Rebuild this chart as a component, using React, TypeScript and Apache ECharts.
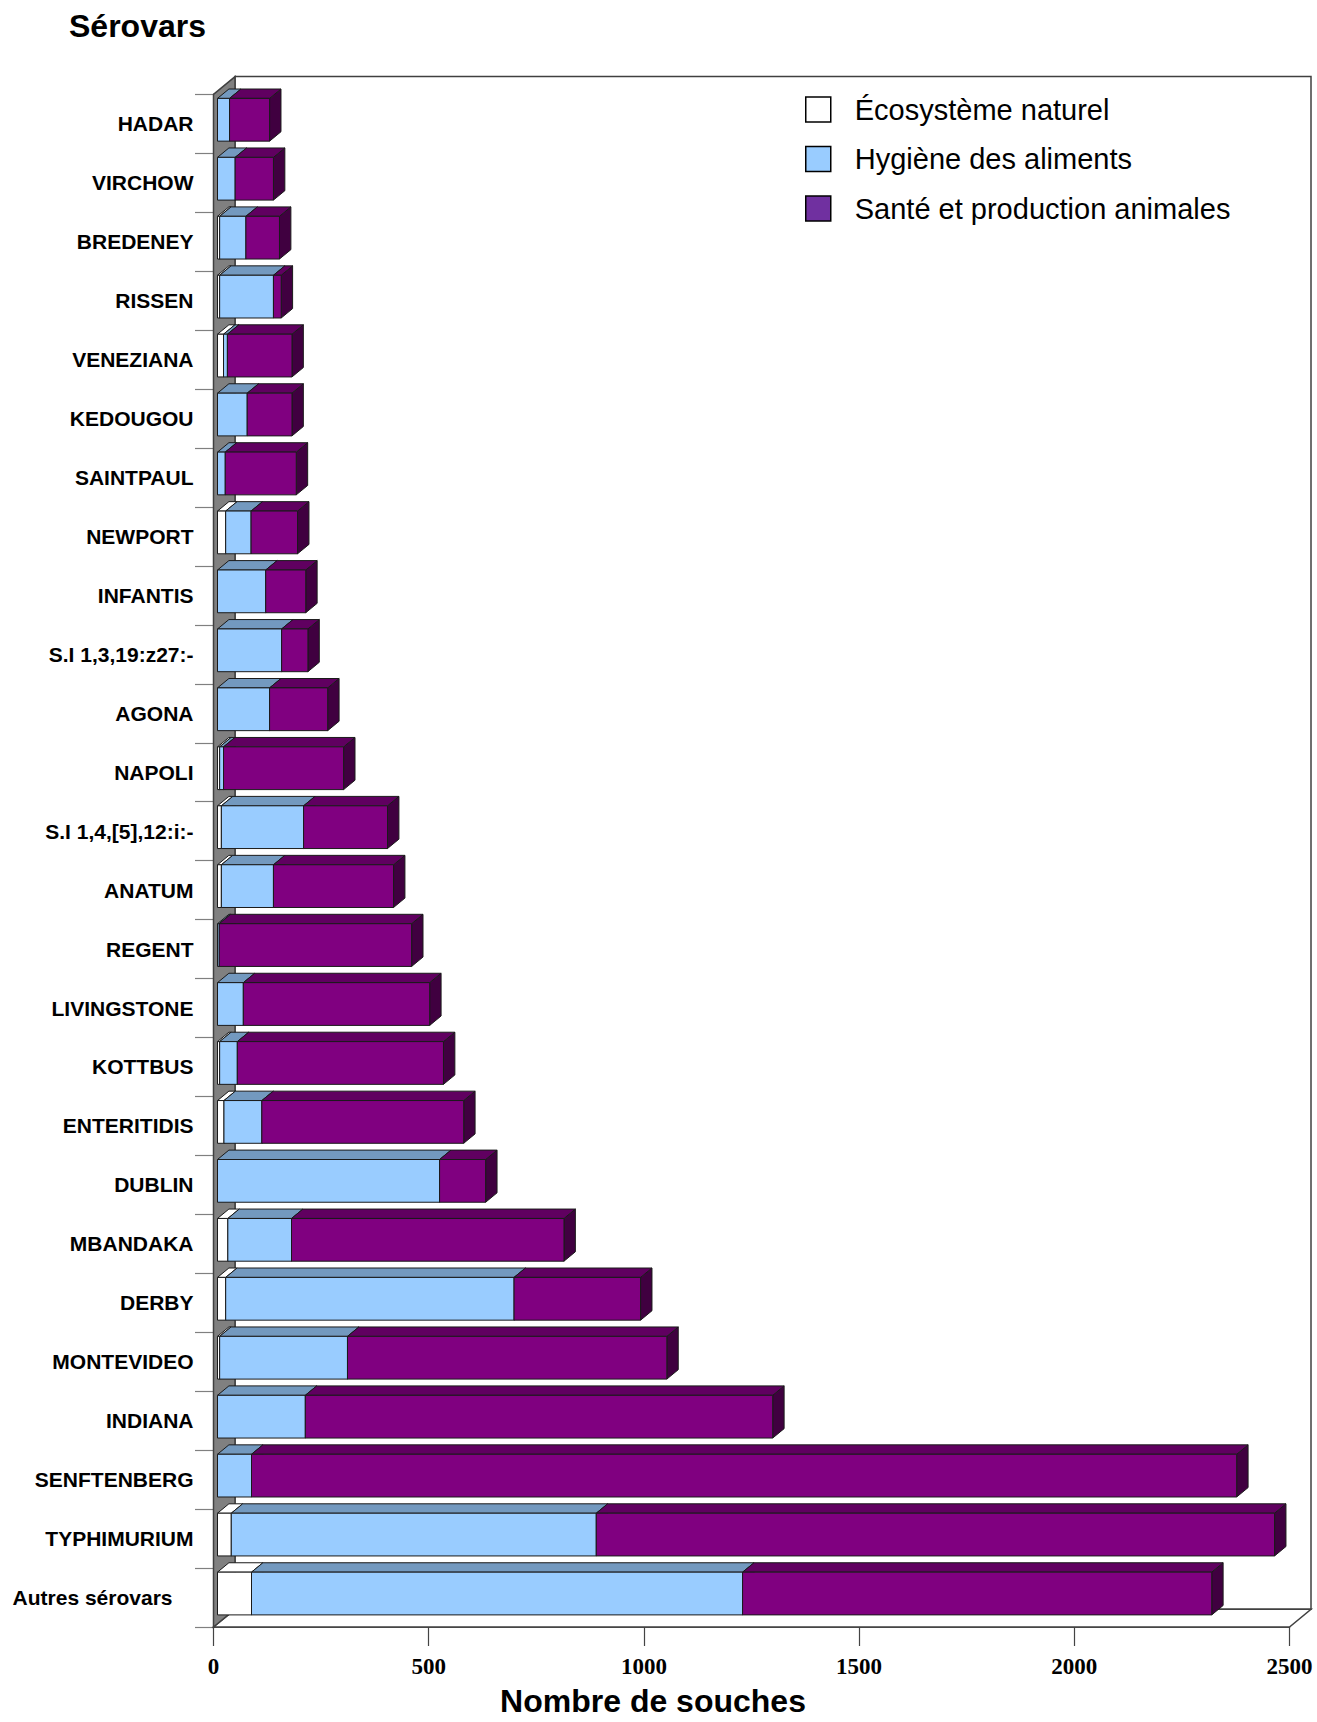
import React, { useEffect, useRef } from "react";
import * as echarts from "echarts";

// ---- Data (top to bottom) ----
const categories = [
  "HADAR", "VIRCHOW", "BREDENEY", "RISSEN", "VENEZIANA", "KEDOUGOU", "SAINTPAUL",
  "NEWPORT", "INFANTIS", "S.I 1,3,19:z27:-", "AGONA", "NAPOLI", "S.I 1,4,[5],12:i:-",
  "ANATUM", "REGENT", "LIVINGSTONE", "KOTTBUS", "ENTERITIDIS", "DUBLIN", "MBANDAKA",
  "DERBY", "MONTEVIDEO", "INDIANA", "SENFTENBERG", "TYPHIMURIUM", "Autres sérovars",
];
const ecosystemeNaturel = [0, 0, 5, 5, 14, 0, 0, 19, 0, 0, 0, 5, 9, 9, 0, 0, 5, 15, 0, 24, 19, 5, 0, 0, 32, 79];
const hygieneAliments = [28, 41, 61, 125, 9, 69, 18, 59, 112, 149, 121, 9, 191, 121, 4, 60, 41, 88, 516, 148, 670, 297, 204, 79, 848, 1141];
const santeProductionAnimales = [93, 89, 78, 18, 150, 104, 165, 108, 93, 61, 135, 279, 195, 279, 447, 433, 479, 469, 107, 633, 294, 742, 1086, 2289, 1576, 1090];
const seriesNames = ["Écosystème naturel", "Hygiène des aliments", "Santé et production animales"];
const xMin = 0;
const xMax = 2500;
const xInterval = 500;

// ---- Styles ----
const SANS = "'Liberation Sans', Arial, Helvetica, sans-serif";
const SERIF = "'Liberation Serif', 'Times New Roman', serif";
const FACE = [
  { front: "#FFFFFF", top: "#FFFFFF", side: "#D9D9D9" },
  { front: "#99CCFF", top: "#7399BF", side: "#4D6680" },
  { front: "#800080", top: "#600060", side: "#400040" },
];
const LEGEND_COLORS = ["#FFFFFF", "#99CCFF", "#7030A0"];
const WALL_DX = 21.5;
const WALL_DY = -17.7;
const BAR_SHIFT_X = 4;
const BAR_SHIFT_Y = -4;
const BAR_DX = 11.4;
const BAR_DY = -9.4;
const BAR_H = 0.725;

function buildSegments() {
  const arrs = [ecosystemeNaturel, hygieneAliments, santeProductionAnimales];
  const out: number[][][] = [[], [], []];
  categories.forEach((_, i) => {
    let acc = 0;
    arrs.forEach((arr, s) => {
      const v = arr[i];
      out[s].push([i, acc, acc + v]);
      acc += v;
    });
  });
  return out;
}

function barRenderer(s: number) {
  return (params: any, api: any) => {
    const cat = api.value(0);
    const start = api.value(1);
    const end = api.value(2);
    if (end - start <= 0) return { type: "group", children: [] };
    const p0 = api.coord([start, cat]);
    const p1 = api.coord([end, cat]);
    const band = api.size([0, 1])[1];
    const h = band * BAR_H;
    const x0 = p0[0] + BAR_SHIFT_X;
    const x1 = p1[0] + BAR_SHIFT_X;
    const top = p0[1] - h / 2 + BAR_SHIFT_Y;
    const bot = p0[1] + h / 2 + BAR_SHIFT_Y;
    const c = FACE[s];
    const stroke = { stroke: "#1a1a1a", lineWidth: 1 };
    return {
      type: "group",
      children: [
        {
          type: "polygon",
          shape: { points: [[x1, top], [x1 + BAR_DX, top + BAR_DY], [x1 + BAR_DX, bot + BAR_DY], [x1, bot]] },
          style: { fill: c.side, ...stroke },
        },
        {
          type: "polygon",
          shape: { points: [[x0, top], [x1, top], [x1 + BAR_DX, top + BAR_DY], [x0 + BAR_DX, top + BAR_DY]] },
          style: { fill: c.top, ...stroke },
        },
        {
          type: "rect",
          shape: { x: x0, y: top, width: x1 - x0, height: bot - top },
          style: { fill: c.front, ...stroke },
        },
      ],
    };
  };
}

function frameRenderer(params: any, api: any) {
  const cs = params.coordSys;
  const x0 = cs.x;
  const y0 = cs.y;
  const x1 = cs.x + cs.width;
  const y1 = cs.y + cs.height;
  const st = { stroke: "#404040", lineWidth: 1.5 };
  return {
    type: "group",
    children: [
      {
        type: "rect",
        shape: { x: x0 + WALL_DX, y: y0 + WALL_DY, width: cs.width, height: cs.height },
        style: { fill: "#FFFFFF", ...st },
      },
      {
        type: "polygon",
        shape: { points: [[x0, y1], [x1, y1], [x1 + WALL_DX, y1 + WALL_DY], [x0 + WALL_DX, y1 + WALL_DY]] },
        style: { fill: "#FFFFFF", ...st },
      },
      {
        type: "polygon",
        shape: { points: [[x0, y0], [x0 + WALL_DX, y0 + WALL_DY], [x0 + WALL_DX, y1 + WALL_DY], [x0, y1]] },
        style: { fill: "#808080", ...st },
      },
    ],
  };
}

export default function App() {
  const ref = useRef<HTMLDivElement>(null);
  useEffect(() => {
    document.body.style.margin = "0";
    document.documentElement.style.overflow = "hidden";
    const chart = echarts.init(ref.current as HTMLDivElement, null, { renderer: "svg" });
    const segs = buildSegments();
    const option: any = {
      animation: false,
      backgroundColor: "#FFFFFF",
      title: {
        text: "Sérovars",
        left: 69,
        top: 10,
        padding: 0,
        textStyle: { fontFamily: SANS, fontSize: 32, fontWeight: "bold", color: "#000" },
      },
      legend: {
        orient: "vertical",
        left: 805,
        top: 95,
        padding: 0,
        icon: "rect",
        itemWidth: 25,
        itemHeight: 25,
        itemGap: 20.5,
        selectedMode: false,
        textStyle: { fontFamily: SANS, fontSize: 29, color: "#000", lineHeight: 29, padding: [0, 0, 0, 19] },
        data: seriesNames.map((n, i) => ({
          name: n,
          itemStyle: { color: LEGEND_COLORS[i], borderColor: "#000", borderWidth: 1.5 },
        })),
      },
      grid: { left: 213.5, right: 27.5, top: 94.3, bottom: 85.3, containLabel: false },
      xAxis: {
        type: "value",
        min: xMin,
        max: xMax,
        interval: xInterval,
        name: "Nombre de souches",
        nameLocation: "middle",
        nameGap: 58,
        nameTextStyle: { fontFamily: SANS, fontSize: 32, fontWeight: "bold", color: "#000", padding: [0, 197, 0, 0] },
        axisLine: { show: true, lineStyle: { color: "#222", width: 1.5 } },
        axisTick: { show: true, length: 19, lineStyle: { color: "#444", width: 1.2 } },
        axisLabel: {
          fontFamily: SERIF,
          fontSize: 23,
          fontWeight: "bold",
          color: "#000",
          margin: 28,
          formatter: (v: number) => String(v),
        },
        splitLine: { show: false },
      },
      yAxis: {
        type: "category",
        inverse: true,
        data: categories,
        axisLine: { show: true, lineStyle: { color: "#222", width: 1.5 } },
        axisTick: { show: true, length: 18.5, lineStyle: { color: "#808080", width: 1.2 } },
        axisLabel: {
          fontFamily: SANS,
          fontSize: 21,
          fontWeight: "bold",
          color: "#000",
          margin: 20,
          formatter: (v: string) => (v === "Autres sérovars" ? "{o|" + v + "}" : v),
          rich: {
            o: { fontFamily: SANS, fontSize: 21, fontWeight: "bold", color: "#000", padding: [0, 21, 0, 0] },
          },
        },
        splitLine: { show: false },
      },
      series: [
        {
          type: "custom",
          name: "frame",
          silent: true,
          clip: false,
          z: 1,
          renderItem: frameRenderer,
          data: [[0, 0]],
          encode: { x: 0, y: 1 },
        },
        ...seriesNames.map((n, s) => ({
          type: "custom",
          name: n,
          clip: false,
          z: 3 + s,
          itemStyle: { color: LEGEND_COLORS[s] },
          renderItem: barRenderer(s),
          data: segs[s],
          encode: { x: [1, 2], y: 0 },
        })),
      ],
    };
    chart.setOption(option);
    return () => chart.dispose();
  }, []);
  return <div ref={ref} style={{ position: "fixed", left: 0, top: 0, width: 1317, height: 1722 }} />;
}
